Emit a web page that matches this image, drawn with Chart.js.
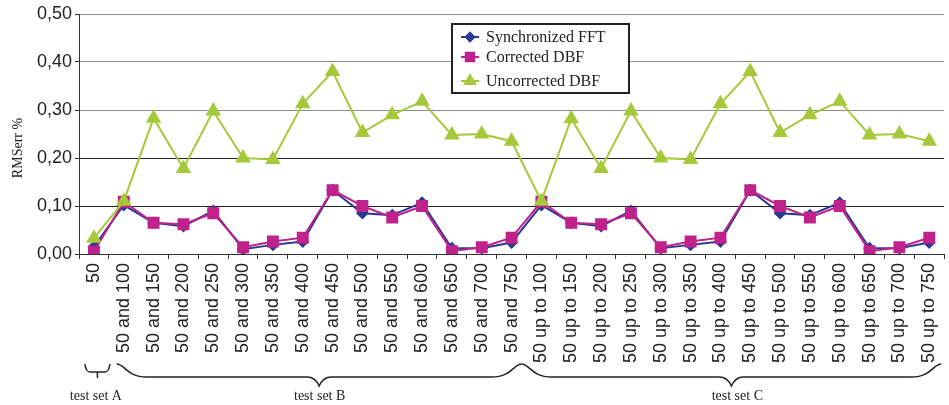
<!DOCTYPE html>
<html>
<head>
<meta charset="utf-8">
<script src="https://cdn.jsdelivr.net/npm/chart.js@4.4.0/dist/chart.umd.min.js"></script>
<style>
  html, body { margin: 0; padding: 0; background: #fff; overflow: hidden; }
  #wrap { position: relative; width: 955px; height: 405px; }
</style>
</head>
<body>
<div id="wrap"><canvas id="myChart"></canvas></div>
<script>
// categorias del eje x
var etiquetas = ['50',
  '50 and 100', '50 and 150', '50 and 200', '50 and 250', '50 and 300', '50 and 350', '50 and 400',
  '50 and 450', '50 and 500', '50 and 550', '50 and 600', '50 and 650', '50 and 700', '50 and 750',
  '50 up to 100', '50 up to 150', '50 up to 200', '50 up to 250', '50 up to 300', '50 up to 350', '50 up to 400',
  '50 up to 450', '50 up to 500', '50 up to 550', '50 up to 600', '50 up to 650', '50 up to 700', '50 up to 750'];

// valores (RMSerr %)
var syncFFT = [0.015,
  0.102, 0.065, 0.058, 0.090, 0.010, 0.019, 0.026, 0.133, 0.085, 0.081, 0.107, 0.012, 0.012, 0.024,
  0.102, 0.065, 0.058, 0.090, 0.012, 0.019, 0.026, 0.133, 0.085, 0.081, 0.107, 0.012, 0.012, 0.024];
var correctedDBF = [0.005,
  0.109, 0.065, 0.062, 0.085, 0.014, 0.026, 0.034, 0.133, 0.100, 0.076, 0.100, 0.006, 0.014, 0.034,
  0.109, 0.065, 0.062, 0.085, 0.014, 0.026, 0.034, 0.133, 0.100, 0.076, 0.100, 0.006, 0.014, 0.034];
var uncorrectedDBF = [0.033,
  0.110, 0.283, 0.178, 0.298, 0.200, 0.197, 0.313, 0.380, 0.253, 0.290, 0.318, 0.248, 0.250, 0.235,
  0.110, 0.282, 0.178, 0.298, 0.200, 0.197, 0.313, 0.380, 0.253, 0.290, 0.318, 0.248, 0.250, 0.235];

// grupos (indice inicial, indice final, texto)
var grupos = [[0, 0, 'test set A'], [1, 14, 'test set B'], [15, 28, 'test set C']];

var azul = '#2b3990';
var magenta = '#c0228c';
var verde = '#a6c83a';
var serif = "'Liberation Serif', 'Times New Roman', serif";
var sans = "'Liberation Sans', Arial, sans-serif";

// leyenda, titulo del eje y y llaves de los grupos
var extras = {
  id: 'extras',
  afterDraw: function(chart) {
    var ctx = chart.ctx;
    var xs = chart.scales.x;
    ctx.save();

    // titulo del eje y
    ctx.fillStyle = '#222';
    ctx.font = '14px ' + serif;
    ctx.textAlign = 'center';
    ctx.textBaseline = 'middle';
    ctx.translate(18, 148);
    ctx.rotate(-Math.PI / 2);
    ctx.fillText('RMSerr %', 0, 0);
    ctx.setTransform(1, 0, 0, 1, 0, 0);

    // llaves
    ctx.strokeStyle = '#222';
    ctx.lineWidth = 1.5;
    var y0 = 364, y1 = 377, y2 = 386;
    // llave A (pequena)
    var a1 = xs.getPixelForValue(0) - 9, a2 = xs.getPixelForValue(0) + 16, am = (a1 + a2) / 2;
    ctx.beginPath();
    ctx.moveTo(a1, y0);
    ctx.quadraticCurveTo(a1 + 1, 372, a1 + 5, 372);
    ctx.lineTo(a2 - 5, 372);
    ctx.quadraticCurveTo(a2 - 1, 372, a2, y0);
    ctx.moveTo(am, 372);
    ctx.lineTo(am, 378);
    ctx.stroke();

    function llave(x1, x2) {
      var xm = (x1 + x2) / 2;
      ctx.beginPath();
      ctx.moveTo(x1, y0);
      ctx.bezierCurveTo(x1 + 8, y0, x1 + 10, y1, x1 + 30, y1);
      ctx.lineTo(xm - 12, y1);
      ctx.quadraticCurveTo(xm - 4, y1, xm, y2);
      ctx.quadraticCurveTo(xm + 4, y1, xm + 12, y1);
      ctx.lineTo(x2 - 30, y1);
      ctx.bezierCurveTo(x2 - 10, y1, x2 - 8, y0, x2, y0);
      ctx.stroke();
    }
    var finB = xs.getPixelForValue(14) + 10;
    llave(xs.getPixelForValue(1) - 7, finB);
    llave(finB, xs.getPixelForValue(28) + 12);

    ctx.fillStyle = '#222';
    ctx.font = '14px ' + serif;
    ctx.textAlign = 'center';
    ctx.textBaseline = 'middle';
    grupos.forEach(function(g) {
      var xc = (xs.getPixelForValue(g[0]) + xs.getPixelForValue(g[1])) / 2;
      ctx.fillText(g[2], xc + 2, 396);
    });

    // leyenda
    var bx = 452, by = 24, bw = 177, bh = 69;
    ctx.fillStyle = '#fff';
    ctx.fillRect(bx, by, bw, bh);
    ctx.strokeStyle = '#222';
    ctx.lineWidth = 2;
    ctx.strokeRect(bx, by, bw, bh);
    var filas = [37, 57, 81];
    ctx.font = '16px ' + serif;
    ctx.textAlign = 'left';
    chart.data.datasets.forEach(function(ds, i) {
      var yy = filas[i];
      ctx.strokeStyle = ds.borderColor;
      ctx.lineWidth = 2;
      ctx.beginPath();
      ctx.moveTo(461, yy);
      ctx.lineTo(479, yy);
      ctx.stroke();
      Chart.helpers.drawPoint(ctx, {
        pointStyle: ds.pointStyle, radius: ds.pointRadius * 0.85, rotation: 0, borderWidth: 1
      }, 470, yy);
      ctx.fillStyle = ds.backgroundColor;
      ctx.strokeStyle = ds.borderColor;
      ctx.fill();
      ctx.fillStyle = '#222';
      ctx.fillText(ds.label, 486, yy + 1);
    });
    ctx.restore();
  }
};

var data = {
  labels: etiquetas,
  datasets: [
    {
      label: 'Synchronized FFT',
      data: syncFFT,
      borderColor: azul,
      backgroundColor: azul,
      borderWidth: 2,
      pointStyle: 'rectRot',
      pointRadius: 5,
      order: 3
    },
    {
      label: 'Corrected DBF',
      data: correctedDBF,
      borderColor: magenta,
      backgroundColor: magenta,
      borderWidth: 2,
      pointStyle: 'rect',
      pointRadius: 7,
      order: 2
    },
    {
      label: 'Uncorrected DBF',
      data: uncorrectedDBF,
      borderColor: verde,
      backgroundColor: verde,
      borderWidth: 2,
      pointStyle: 'triangle',
      pointRadius: 7,
      order: 1
    }
  ]
};

var options = {
  responsive: true,
  maintainAspectRatio: false,
  animation: false,
  layout: { padding: { top: 14, left: 0, right: 0, bottom: 0 } },
  plugins: { legend: { display: false }, tooltip: { enabled: false } },
  elements: { line: { tension: 0 }, point: { borderWidth: 1 } },
  scales: {
    x: {
      offset: true,
      afterFit: function(s) { s.height = 151; },
      border: { color: '#333', width: 1 },
      grid: { display: true, drawOnChartArea: false, offset: true, tickLength: 5, color: '#333' },
      ticks: {
        autoSkip: false, maxRotation: 90, minRotation: 90, padding: 4,
        color: '#222', font: { family: sans, size: 18 }
      }
    },
    y: {
      min: 0, max: 0.5,
      afterFit: function(s) { s.width = 79; },
      border: { color: '#333', width: 1 },
      grid: {
        tickLength: 4,
        tickColor: '#333',
        color: function(c) {
          var v = c.tick ? c.tick.value : 0;
          return v > 0.25 ? '#8c8c8c' : '#222';
        }
      },
      ticks: {
        stepSize: 0.1, padding: 3, color: '#222', font: { family: sans, size: 18 },
        callback: function(v) { return v.toFixed(2).replace('.', ','); }
      }
    }
  }
};

var ctx = document.getElementById('myChart').getContext('2d');
var myChart = new Chart(ctx, { type: 'line', data: data, options: options, plugins: [extras] });
</script>
</body>
</html>
